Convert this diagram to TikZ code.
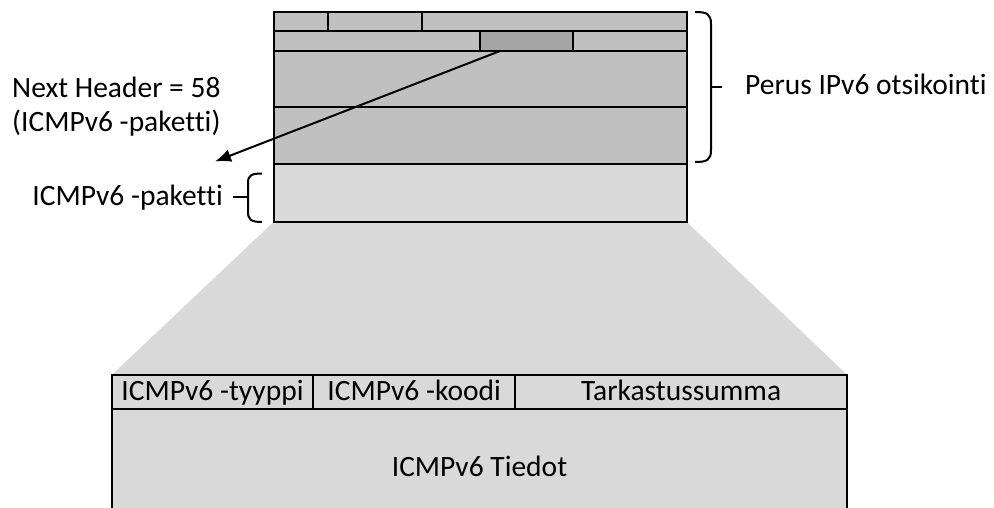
\documentclass[tikz,border=0pt]{standalone}
\usepackage{fontspec}
\setmainfont{Carlito}[Ligatures={NoCommon}]
\usetikzlibrary{calc,arrows.meta}
\definecolor{hdrgray}{HTML}{C0C0C0}
\definecolor{darkgray2}{HTML}{A6A6A6}
\definecolor{lightgray2}{HTML}{D9D9D9}
\tikzset{
  field/.style={draw=black, line width=2pt, anchor=north west, inner sep=0pt, outer sep=0pt},
  lbl/.style={inner sep=0pt, font=\fontsize{29.5}{35}\selectfont},
  brace/.style={draw=black, line width=2pt},
  pointer/.style={draw=black, line width=2pt, -{Latex[length=16pt,width=13pt]}}
}
\begin{document}
\begin{tikzpicture}[x=1pt,y=-1pt]
\useasboundingbox (0,0) rectangle (994,508);
\clip (0,0) rectangle (994,508);
% trapezoid
\fill[lightgray2] (273.5,222) -- (686.7,222) -- (847.3,375) -- (111.7,375) -- cycle;
% IPv6 header rows
\node[field, fill=hdrgray, minimum width=54.2pt, minimum height=19.3pt] (r1a) at (273.5,11.7) {};
\node[field, fill=hdrgray, minimum width=94.6pt, minimum height=19.3pt] (r1b) at (327.7,11.7) {};
\node[field, fill=hdrgray, minimum width=264.4pt, minimum height=19.3pt] (r1c) at (422.3,11.7) {};
\node[field, fill=hdrgray, minimum width=206.2pt, minimum height=20pt] (r2a) at (273.5,31) {};
\node[field, fill=darkgray2, minimum width=93.6pt, minimum height=20pt] (nh) at (479.7,31) {};
\node[field, fill=hdrgray, minimum width=113.4pt, minimum height=20pt] (r2c) at (573.3,31) {};
\node[field, fill=hdrgray, minimum width=413.2pt, minimum height=56pt] (r3) at (273.5,51) {};
\node[field, fill=hdrgray, minimum width=413.2pt, minimum height=57pt] (r4) at (273.5,107) {};
\node[field, fill=lightgray2, minimum width=413.2pt, minimum height=58pt] (icmp) at (273.5,164) {};
% lower ICMPv6 box
\node[field, fill=lightgray2, minimum width=201.6pt, minimum height=34pt] (typ) at (111.7,375) {};
\node[field, fill=lightgray2, minimum width=201.7pt, minimum height=34pt] (kod) at (313.3,375) {};
\node[field, fill=lightgray2, minimum width=332.3pt, minimum height=34pt] (chk) at (515,375) {};
\node[field, fill=lightgray2, minimum width=735.6pt, minimum height=120pt] (data) at (111.7,409) {};
\node[lbl, anchor=base] (typtxt) at (typ.center |- 0,400) {ICMPv6 -tyyppi};
\node[lbl, anchor=base] (kodtxt) at (kod.center |- 0,400) {ICMPv6 -koodi};
\node[lbl, anchor=base] (chktxt) at (chk.center |- 0,400) {Tarkastussumma};
\node[lbl, anchor=base] (tiedot) at (479.5,476) {ICMPv6 Tiedot};
% labels
\node[lbl, anchor=base west] (nhtxt) at (12,97.5) {Next Header = 58};
\node[lbl, anchor=base west] (nhtxt2) at (12,131.5) {(ICMPv6 -paketti)};
\node[lbl, anchor=base east] (pkt) at (223,206) {ICMPv6 -paketti};
\node[lbl, anchor=base west] (perus) at (745,95) {Perus IPv6 otsikointi};
% arrow
\coordinate (atip) at (215,161.5);
\draw[pointer] ($(nh.south west)+(20.3,0)$) -- (atip);
% right brace
\coordinate (rbt) at (695,12);
\coordinate (rbb) at (695,162);
\coordinate (rbm) at (722,87);
\draw[brace] (rbt) .. controls (707,12) and (711,14) .. (711,24) -- (711,150) .. controls (711,160) and (707,162) .. (rbb);
\draw[brace] (711,87) -- (rbm);
% left brace
\coordinate (lbt) at (262,173.5);
\coordinate (lbb) at (262,222);
\coordinate (lbm) at (233,197);
\draw[brace] (lbt) .. controls (251,173.5) and (248,175.5) .. (248,183) -- (248,212) .. controls (248,219.5) and (251,222) .. (lbb);
\draw[brace] (248,197) -- (lbm);
\end{tikzpicture}
\end{document}
